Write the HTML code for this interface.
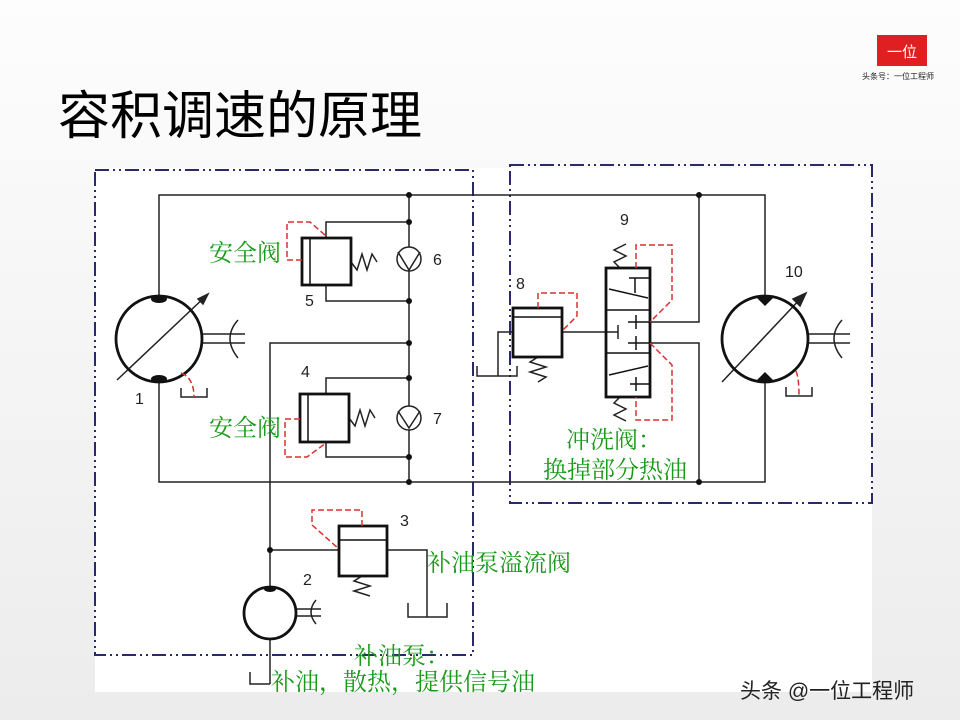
<!DOCTYPE html>
<html><head><meta charset="utf-8"><style>
html,body{margin:0;padding:0;width:960px;height:720px;overflow:hidden;background:#f4f4f4;}
svg{display:block}
</style></head><body>
<svg width="960" height="720" viewBox="0 0 960 720" xmlns="http://www.w3.org/2000/svg" font-family="Liberation Sans, 'Noto Sans CJK SC', sans-serif">
<defs>
<linearGradient id="bg" x1="0" y1="0" x2="0" y2="1"><stop offset="0" stop-color="#fdfdfd"/><stop offset="1" stop-color="#ececec"/></linearGradient>
</defs>
<rect width="960" height="720" fill="url(#bg)"/>
<rect x="95" y="168" width="777" height="524" fill="#fff"/>
<!-- title -->
<text x="58" y="134" font-size="52" fill="#000" font-family="'Liberation Sans','Noto Sans CJK SC',sans-serif">容积调速的原理</text>
<!-- logo -->
<rect x="877" y="35" width="50" height="31" fill="#e02020"/>
<text x="902" y="57" font-size="15" fill="#fff" text-anchor="middle" font-family="'Noto Sans CJK SC',sans-serif">一位</text>
<text x="898" y="79" font-size="8" fill="#222" text-anchor="middle" font-family="'Noto Sans CJK SC',sans-serif">头条号：一位工程师</text>

<!-- dash-dot boxes -->
<g fill="none" stroke="#2a2a6a" stroke-width="2" stroke-dasharray="14 4 2 4 2 4">
<rect x="95" y="170" width="378" height="485"/>
<rect x="510" y="165" width="362" height="338"/>
</g>

<g fill="none" stroke="#222" stroke-width="1.5">
<polyline points="159,297 159,195 765,195 765,297"/>
<polyline points="159,382 159,482 765,482 765,382"/>
<line x1="409" y1="195" x2="409" y2="482"/>
<polyline points="326,238 326,222 409,222"/>
<polyline points="326,285 326,301 409,301"/>
<polyline points="326,394 326,378 409,378"/>
<polyline points="326,442 326,457 409,457"/>
<polyline points="409,343 270,343 270,588"/>
<line x1="270" y1="550" x2="339" y2="550"/>
<polyline points="387,550 427,550 427,617"/>
<polyline points="408,603 408,617 447,617 447,603"/>
<line x1="270" y1="639" x2="270" y2="684"/>
<polyline points="250,672 250,684 270,684"/>
<polyline points="699,195 699,322 650,322"/>
<polyline points="699,482 699,343 650,343"/>
<line x1="562" y1="332" x2="618" y2="332"/>
<line x1="618" y1="325" x2="618" y2="339"/>
<polyline points="513,332 498,332 498,376"/>
<polyline points="477,366 477,376 517,376 517,366"/>
<line x1="203" y1="334" x2="245" y2="334"/><line x1="203" y1="343" x2="245" y2="343"/>
<path d="M238,320 Q222,338 238,358"/>
<line x1="809" y1="334" x2="850" y2="334"/><line x1="809" y1="343" x2="850" y2="343"/>
<path d="M842,320 Q826,338 842,358"/>
<line x1="296" y1="609" x2="321" y2="609"/><line x1="296" y1="616" x2="321" y2="616"/>
<path d="M316,600 Q306,612 316,624"/>
<polyline points="181,388 181,397 207,397 207,388"/>
<polyline points="786,387 786,396 812,396 812,387"/>
<circle cx="409" cy="259" r="12" fill="#fff"/>
<circle cx="409" cy="418" r="12" fill="#fff"/>
<polyline points="398,252 409,270 420,252"/>
<polyline points="398,411 409,428 420,411"/>
<polyline points="351,262 357,270 362,254 367,270 372,254 377,262"/>
<polyline points="349,418 355,426 360,410 365,426 370,410 375,418"/>
<polyline points="362,576 354,581 370,586 354,591 370,596"/>
<polyline points="538,357 530,362 546,367 530,372 546,377 538,382"/>
<polyline points="620,268 614,262 626,256 614,250 626,244"/>
<polyline points="620,397 614,403 626,409 614,415 626,421"/>
<line x1="117" y1="380" x2="208" y2="294"/>
<polygon points="208,294 198,299 203,304" fill="#222"/>
<line x1="722" y1="382" x2="803" y2="296"/>
<polygon points="806,293 793,299 800,306" fill="#222"/>
</g>

<g fill="none" stroke="#111" stroke-width="2.8">
<circle cx="159" cy="339" r="43"/>
<circle cx="765" cy="339" r="43"/>
<circle cx="270" cy="613" r="26"/>
<rect x="302" y="238" width="49" height="47"/>
<rect x="300" y="394" width="49" height="48"/>
<rect x="339" y="526" width="48" height="50"/>
<rect x="513" y="308" width="49" height="49"/>
<rect x="606" y="268" width="44" height="129"/>
</g>
<g fill="none" stroke="#111" stroke-width="1.5">
<line x1="310" y1="238" x2="310" y2="285"/>
<line x1="308" y1="394" x2="308" y2="442"/>
<line x1="339" y1="540" x2="387" y2="540"/>
<line x1="513" y1="317" x2="562" y2="317"/>
<line x1="606" y1="310" x2="650" y2="310"/>
<line x1="606" y1="353" x2="650" y2="353"/>
<polyline points="635,278 635,293"/><line x1="629" y1="278" x2="650" y2="278"/>
<line x1="609" y1="289" x2="648" y2="298"/>
<line x1="628" y1="322" x2="650" y2="322"/><line x1="636" y1="315" x2="636" y2="329"/>
<line x1="628" y1="343" x2="650" y2="343"/><line x1="636" y1="336" x2="636" y2="350"/>
<line x1="609" y1="375" x2="648" y2="366"/>
<line x1="630" y1="384" x2="650" y2="384"/><line x1="636" y1="377" x2="636" y2="391"/>
</g>
<g fill="#111">
<ellipse cx="159" cy="299" rx="8" ry="4"/><ellipse cx="159" cy="379" rx="8" ry="4"/>
<polygon points="755,296 775,296 765,306"/><polygon points="755,382 775,382 765,372"/>
<ellipse cx="270" cy="589" rx="6" ry="3"/>
<circle cx="409" cy="195" r="3"/><circle cx="409" cy="222" r="3"/><circle cx="409" cy="301" r="3"/>
<circle cx="409" cy="343" r="3"/><circle cx="409" cy="378" r="3"/><circle cx="409" cy="457" r="3"/>
<circle cx="409" cy="482" r="3"/><circle cx="699" cy="195" r="3"/><circle cx="699" cy="482" r="3"/>
<circle cx="270" cy="550" r="3"/>
</g>
<g fill="none" stroke="#d83030" stroke-width="1.5" stroke-dasharray="6 3">
<polyline points="302,260 287,260 287,222 310,222 326,236"/>
<polyline points="300,419 285,419 285,457 307,457 326,443"/>
<polyline points="362,526 362,510 312,510 312,525 339,549"/>
<polyline points="538,308 538,293 577,293 577,316 562,331"/>
<polyline points="636,268 636,245 672,245 672,300 650,322"/>
<polyline points="650,343 672,365 672,420 636,420 636,397"/>
<path d="M181,373 Q194,378 194,397"/>
<path d="M796,371 Q799,378 799,396"/>
</g>
<g font-size="16" fill="#222">
<text x="433" y="265">6</text><text x="305" y="306">5</text>
<text x="301" y="377">4</text><text x="433" y="424">7</text>
<text x="135" y="404">1</text><text x="303" y="585">2</text>
<text x="400" y="526">3</text><text x="516" y="289">8</text>
<text x="620" y="225">9</text><text x="785" y="277">10</text>
</g>
<g font-size="24" fill="#1a9a1a" font-family="'Noto Serif CJK SC','Noto Sans CJK SC',serif">
<text x="209" y="261">安全阀</text>
<text x="209" y="436">安全阀</text>
<text x="566" y="448">冲洗阀：</text>
<text x="543" y="478">换掉部分热油</text>
<text x="427" y="571">补油泵溢流阀</text>
<text x="354" y="664">补油泵：</text>
<text x="271" y="690">补油，散热，提供信号油</text>
</g>
<text x="740" y="698" font-size="21" fill="#222" font-family="'Liberation Sans','Noto Sans CJK SC',sans-serif">头条 @一位工程师</text>
</svg>
</body></html>
